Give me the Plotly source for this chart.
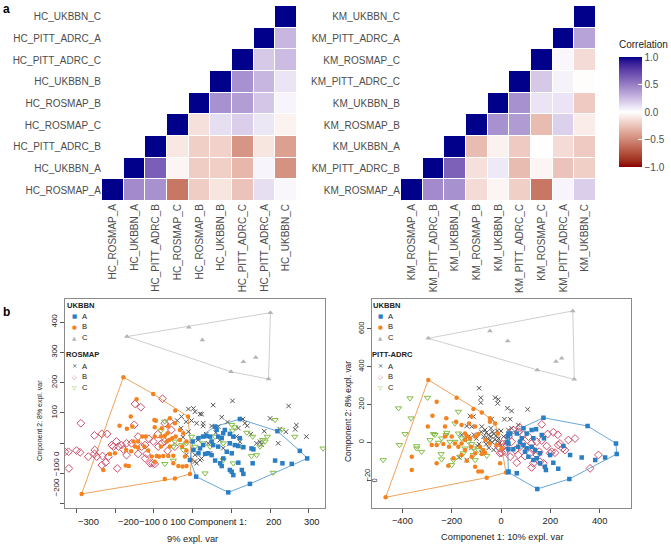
import plotly.graph_objects as go

W, H = 671, 549
FONT = "Liberation Sans, Arial, sans-serif"

# ---------------- heatmap data ----------------
HC_LABELS = ["HC_ROSMAP_A", "HC_UKBBN_A", "HC_PITT_ADRC_B", "HC_ROSMAP_C", "HC_ROSMAP_B",
             "HC_UKBBN_B", "HC_PITT_ADRC_C", "HC_PITT_ADRC_A", "HC_UKBBN_C"]
HC_UPPER = [
    [1, 0.45, 0.42, -0.58, -0.21, -0.11, -0.25, 0.12, 0.03],
    [1, 0.63, -0.04, -0.21, -0.2, -0.3, 0.04, -0.46],
    [1, -0.1, -0.2, -0.19, -0.45, -0.11, -0.4],
    [1, -0.13, 0.12, 0.18, 0.09, -0.05],
    [1, 0.42, 0.37, 0.21, 0.04],
    [1, 0.42, 0.27, 0.1],
    [1, 0.2, 0.25],
    [1, 0.27],
    [1],
]
KM_LABELS = ["KM_ROSMAP_A", "KM_PITT_ADRC_B", "KM_UKBBN_A", "KM_ROSMAP_B", "KM_UKBBN_B",
             "KM_PITT_ADRC_C", "KM_ROSMAP_C", "KM_PITT_ADRC_A", "KM_UKBBN_C"]
KM_UPPER = [
    [1, 0.45, 0.42, -0.15, -0.04, -0.2, -0.58, 0.04, 0.18],
    [1, 0.62, -0.13, 0.08, -0.28, -0.04, -0.25, -0.2],
    [1, -0.28, -0.06, -0.22, 0.0, -0.15, -0.22],
    [1, 0.42, 0.38, -0.28, 0.17, -0.08],
    [1, 0.42, 0.1, 0.1, -0.22],
    [1, 0.2, 0.05, -0.01],
    [1, 0.03, -0.15],
    [1, 0.35],
    [1],
]
CB_TICKS = [-1, -0.5, 0, 0.5, 1]
CB_TEXT = ["\u22121.0", "\u22120.5", "0.0", "0.5", "1.0"]

# ---------------- PCA scatter data (left: UKBBN + ROSMAP) ----------------
L_UKA_X = [122, 219, 277, 296, 256, 232, 213, 148, 92, 9, 157, 152, 131, 118, 122, 105, 96, 79, 66, 45,
           36, 27, 32, 40, 49, 58, 71, 75, 79, 96, 101, 105, 127, 131, 118, 101, 88, 66, 53, 49,
           19, 15, 2, 0, 75, 96, 109, 27, 58, 62, 83, 15, 155, -7]
L_UKA_Y = [80, 40, -25, -50, -68, -66, -57, -134, -162, -110, -20, -17, -13, -9, 17, 22, 31, 33, 22, 22,
           24, -6, -35, -33, -39, -57, -66, -75, -50, -88, -94, -105, -88, -101, -64, -33, -28, -11, -6, 6,
           -17, -33, -22, 6, 17, 0, -6, 22, 55, 44, 44, 17, -66, -55]
L_UKB_X = [-179, -145, -102, -160, -189, -156, -170, -99, -95, -98, -130, -121, -98, -82, -72, -65, -61, -53, -44, -33,
           -27, -214, -172, -159, -149, -141, -125, -115, -106, -93, -87, -76, -63, -50, -37, -26, -16, -7, -72, -46,
           -231, -287, -173, -165, -98, -201, -153, -141, -82, -59, -50, -20, -16, -3, -67, -80, -63, -59, -46, -33,
           -24, -16, -45, -12]
L_UKB_Y = [218, 145, 163, 88, 58, 55, 48, 77, 74, 53, 22, 22, 22, 22, 25, 33, 11, 17, 22, 11,
           -11, -35, -22, -26, -11, -15, -11, -24, -44, -42, -44, -42, -42, -41, -75, -77, -75, -101, -118, -116,
           -88, -167, -73, -75, -61, -33, 6, 6, -11, -11, -66, -44, -24, -55, 6, 50, 55, 83, 66, 44,
           33, 6, 108, 88]
L_UKC_X = [-170, -10, 25, 201, 99, 131, 163, 196]
L_UKC_Y = [352, 383, 341, 431, 236, 269, 283, 212]
L_RA_X = [53, 103, 248, 200, 225, 241, 268, 265, 294, 221, 75, 27, 19, 2, 49, 66, 118, 135, 141, 165,
          174, 178, 113, 122, 96, 79, 45, 19, 6, 10, -11, 6, 23, -29, -17, -3, 10, 27, -11, 14,
          -16, 6, 23, -30, 35, 60, 90, 150, 185, 130, -40, -25, 40, 70]
L_RA_Y = [126, 140, 123, 82, 47, 38, 60, 46, 22, 0, 86, 66, 97, 115, 57, 55, 50, 66, 58, 0,
          5, -5, 22, 5, 0, -16, -33, -55, -38, -66, 113, 104, 96, 88, 71, 75, 66, 57, 38, 11,
          -38, -60, -50, 50, 30, 35, 70, 30, 40, 80, 75, 20, 0, 10]
L_RB_X = [-289, -321, -300, -291, -320, -254, -235, -221, -253, -254, -248, -235, -233, -218, -205, -197, -192, -184, -179, -171,
          -171, -158, -151, -134, -149, -195, -141, -141, -132, -123, -119, -110, -104, -98, -102, -89, -80, -72, -78, -72,
          -59, -55, -46, -123, -270, -225, -209, -330, -113, -90, -65]
L_RB_Y = [66, -28, -24, -30, -83, 26, 31, 31, -22, -35, -44, -72, -42, -44, -11, 6, -11, -6, -20, 0,
          -39, 0, 61, 119, 130, -83, 22, -35, -11, -6, -35, -66, -66, -68, 6, -11, 0, 6, 147, 66,
          72, 44, -11, -50, -44, -63, -6, -28, 15, 30, -25]
L_RC_X = [213, 264, 337, 208, 152, 165, 127, 155, 187, 193, 181, 105, 79, 32, 101, 109, 103, 79, 58, 45,
          27, 174, -72, -82, -72, -50, -50, -29, -24, -16, -3, 6, -46, 140, 230]
L_RC_Y = [77, 22, -17, -97, -42, -39, -11, 22, 6, 22, 11, -66, -55, -99, 61, 53, 42, 0, 22, -11,
          0, -11, 72, 42, -68, -57, -11, -6, -22, 0, 22, -11, 6, 35, 45]

# ---------------- PCA scatter data (right: UKBBN + PITT-ADRC) ----------------
R_UKA_X = [172, 351, 466, 469, 422, 382, 327, 280, 277, 147, 30, 64, 37, 64, 84, 91, 124, 142, 104, 165,
           174, 131, 124, 91, 70, 50, 97, 111, 131, 145, 158, 178, 182, 212, 232, 253, 30, 26, 28, 77,
           104, 158, 199, 138, 30, 30, 30]
R_UKA_Y = [130, 86, -6, -62, -81, -94, -81, -67, -194, -247, -159, -164, 47, 47, 21, 74, 65, 69, 47, 39,
           21, 21, -23, -14, -23, -37, -50, -76, -94, -85, -111, -129, -147, -108, -140, -20, -6, 3, 30, 3,
           -32, -58, -67, -41, 44, -37, -155]
R_UKB_X = [-295, -261, -180, -112, -78, -45, -24, -278, -297, -227, -222, -182, -160, -146, -139, -281, -261, -234, -211, -187,
           -160, -146, -126, -105, -92, -85, -72, -78, -65, -119, -105, -139, -160, -193, -362, -362, -261, -214, -105, -92,
           -78, -58, -468, 20, -18, -45, -62, -105, -130, -119, -200, -227, -173, -146, -122, 3, -4, -45, -12]
R_UKB_Y = [330, 215, 236, 176, 157, 127, 100, 141, 83, 83, 127, 109, 92, 47, 33, -14, -14, -9, -23, -6,
           -6, 12, 21, 30, 44, -23, -41, -62, -55, -76, -58, -97, -67, -85, -76, -147, -111, -124, -129, -155,
           -155, -187, -291, -160, -14, -6, 12, 83, 100, 136, 30, 30, -23, -41, -23, -32, -111, 108, 47]
R_UKC_X = [-295, -45, 27, 291, 147, 223, 246, 297]
R_UKC_Y = [550, 589, 536, 695, 383, 427, 444, 333]
R_PA_X = [-89, -82, -82, -24, -11, -14, 26, 43, 108, -126, -112, -38, 14, 37, -139, -119, -78, -65, -41, -15,
          30, 43, 70, -160, -132, -139, -78, -89, -60, -50, -40, -30, -20, -10, -55, -45, -35, -25, -15, -5,
          -70, -65, -80, -100, -110, -95, -50, -30, 0, 10, -120, -170, 20, -60, -35]
R_PA_Y = [286, 236, 210, 236, 227, 206, 180, 166, 174, 139, 136, 123, 122, 122, 86, 83, 83, 65, 74, 60,
          65, 74, 92, 39, 30, -94, -55, -9, 50, 40, 30, 45, 35, 20, 20, 10, 0, 15, 5, -5,
          30, 10, 55, 20, 40, -20, -30, -40, 60, 30, -30, -80, 0, -10, 55]
R_PB_X = [165, 77, 189, 212, 273, 232, 205, 219, 199, 395, 361, 145, 131, 124, 158, 172, 64, 104, 124, 145,
          165, 111, 91, 70, 50, 30, 43, 23, 10, 3, -4, 57, 77, 70, 97, 185, 250, 259, 239, 131,
          155, 84, 118, 37, 3, 16, -4, -11, 30, 230, 300]
R_PB_Y = [95, 77, 44, 53, 12, -14, -50, -55, -58, -67, -138, -67, -111, -133, -103, -111, -108, -23, -6, 3,
          9, 30, 39, 56, 65, 30, 3, -14, -23, -55, -32, -41, -23, -67, -73, -20, -32, -41, -6, -41,
          -50, 3, -58, -76, -6, -50, -58, -23, 30, 40, 20]
R_PC_X = [-369, -298, -416, -478, -412, -389, -342, -322, -274, -268, -187, -220, -173, -160, -146, -153, -200, -241, -193, -166,
          -132, -119, -112, -92, -112, -58, -105, -342, -254, -241, -187, -207, -365, -288, -243, -173, -223]
R_PC_Y = [233, 236, 180, -94, -14, 44, -32, -50, 44, 39, 100, 51, 47, 21, -32, -58, -120, -90, -94, -76,
          3, -9, -32, -41, -67, -71, -94, -20, -2, 21, 3, 3, 127, 12, -62, 162, 39]

L_XTICK_VALS = [-300, -200, -100, 0, 100, 200, 300]
L_XTICK_TEXT = ["\u2212300", "\u2212200", "\u2212100 0 100 Component 1:", "200", "300"]
L_XTICK_AT = [-268, -165, 0, 210, 308]
L_YTICK_VALS = [-200, -100, 0, 100, 200, 300, 400]
L_YTICK_TEXT = ["", "", "", "100", "200", "300", "400"]
R_XTICK_VALS = [-400, -200, 0, 200, 400]
R_XTICK_TEXT = ["\u2212400", "\u2212200", "0", "200", "400"]
R_YTICK_VALS = [-200, 0, 200, 400, 600]
R_YTICK_TEXT = ["", "0", "200", "400", "600"]

# ---------------- colours ----------------
BLUE, ORANGE, GREY_T = "#2a7fc4", "#f5821f", "#b4b4b4"
XCOL, PINK, GREEN = "#555555", "#cc4f6c", "#84bd47"
HULL_BLUE, HULL_ORANGE, HULL_GREY = "#6aa6d6", "#eda45e", "#cfcfcf"


# ---------------- helpers ----------------
def fx(p):
    return p / W


def fy(p):
    return 1 - p / H


def hex_rgb(h):
    h = h.lstrip("#")
    return tuple(int(h[i:i + 2], 16) for i in (0, 2, 4))


XN, YN, ZN = 0.95047, 1.0, 1.08883


def to_lab(rgb):
    def lin(c):
        c = c / 255
        return c / 12.92 if c <= 0.04045 else ((c + 0.055) / 1.055) ** 2.4
    r, g, b = (lin(v) for v in rgb)
    X = 0.4124564 * r + 0.3575761 * g + 0.1804375 * b
    Y = 0.2126729 * r + 0.7151522 * g + 0.0721750 * b
    Z = 0.0193339 * r + 0.1191920 * g + 0.9503041 * b

    def f(t):
        return t ** (1 / 3) if t > (6 / 29) ** 3 else t / (3 * (6 / 29) ** 2) + 4 / 29
    a, b_, c = f(X / XN), f(Y / YN), f(Z / ZN)
    return (116 * b_ - 16, 500 * (a - b_), 200 * (b_ - c))


def from_lab(lab):
    L, a, b = lab
    fyv = (L + 16) / 116
    fxv = fyv + a / 500
    fzv = fyv - b / 200

    def finv(t):
        return t ** 3 if t > 6 / 29 else 3 * (6 / 29) ** 2 * (t - 4 / 29)
    X, Y, Z = XN * finv(fxv), YN * finv(fyv), ZN * finv(fzv)
    r = 3.2404542 * X - 1.5371385 * Y - 0.4985314 * Z
    g = -0.9692660 * X + 1.8760108 * Y + 0.0415560 * Z
    bb = 0.0556434 * X - 0.2040259 * Y + 1.0572252 * Z

    def gam(c):
        c = max(0.0, c)
        v = 12.92 * c if c <= 0.0031308 else 1.055 * c ** (1 / 2.4) - 0.055
        return max(0, min(255, round(v * 255)))
    return "rgb(%d,%d,%d)" % (gam(r), gam(g), gam(bb))


LOW, MID, HIGH = to_lab(hex_rgb("#8B0000")), to_lab(hex_rgb("#FFFFFF")), to_lab(hex_rgb("#00008B"))
colorscale = []
N = 20
for i in range(N + 1):
    t = i / N
    if t <= 0.5:
        s = t / 0.5
        lab = tuple(LOW[k] + (MID[k] - LOW[k]) * s for k in range(3))
    else:
        s = (t - 0.5) / 0.5
        lab = tuple(MID[k] + (HIGH[k] - MID[k]) * s for k in range(3))
    colorscale.append([t, from_lab(lab)])


def tri_matrix(upper):
    n = len(upper)
    z = [[None] * n for _ in range(n)]
    for r, row in enumerate(upper):
        for k, v in enumerate(row):
            z[r][r + k] = v
    return z


def hull(xs, ys):
    pts = sorted(set(zip(xs, ys)))

    def cross(o, a, b):
        return (a[0] - o[0]) * (b[1] - o[1]) - (a[1] - o[1]) * (b[0] - o[0])
    lower, upper = [], []
    for p in pts:
        while len(lower) >= 2 and cross(lower[-2], lower[-1], p) <= 0:
            lower.pop()
        lower.append(p)
    for p in reversed(pts):
        while len(upper) >= 2 and cross(upper[-2], upper[-1], p) <= 0:
            upper.pop()
        upper.append(p)
    h = lower[:-1] + upper[:-1]
    h.append(h[0])
    return [p[0] for p in h], [p[1] for p in h]


fig = go.Figure()

# ---------------- heatmaps ----------------
idx = list(range(9))
fig.add_trace(go.Heatmap(z=tri_matrix(HC_UPPER), x=idx, y=idx, coloraxis="coloraxis",
                         xgap=1, ygap=1, xaxis="x", yaxis="y", hoverongaps=False))
fig.add_trace(go.Heatmap(z=tri_matrix(KM_UPPER), x=idx, y=idx, coloraxis="coloraxis",
                         xgap=1, ygap=1, xaxis="x2", yaxis="y2", hoverongaps=False))


# ---------------- scatter panels ----------------
def add_panel(xa, ya, groups_uk, groups_other):
    for (xs, ys, col, hcol, sym, size) in groups_uk:
        hx, hy = hull(xs, ys)
        fig.add_trace(go.Scatter(x=hx, y=hy, mode="lines", line=dict(color=hcol, width=1),
                                 xaxis=xa, yaxis=ya, showlegend=False, hoverinfo="skip"))
    allg = groups_other + groups_uk
    for (xs, ys, col, hcol, sym, size) in allg:
        if sym == "x-thin":
            mk = dict(symbol=sym, size=size, line=dict(color=col, width=1))
        elif sym.endswith("-open"):
            mk = dict(symbol=sym, size=size, color=col, line=dict(width=1))
        else:
            mk = dict(symbol=sym, size=size, color=col, line=dict(width=0))
        fig.add_trace(go.Scatter(x=xs, y=ys, mode="markers", marker=mk,
                                 xaxis=xa, yaxis=ya, showlegend=False))


add_panel("x3", "y3",
          [(L_UKC_X, L_UKC_Y, GREY_T, HULL_GREY, "triangle-up", 5),
           (L_UKB_X, L_UKB_Y, ORANGE, HULL_ORANGE, "circle", 4.5),
           (L_UKA_X, L_UKA_Y, BLUE, HULL_BLUE, "square", 4.5)],
          [(L_RA_X, L_RA_Y, XCOL, None, "x-thin", 4.5),
           (L_RB_X, L_RB_Y, PINK, None, "diamond-open", 6),
           (L_RC_X, L_RC_Y, GREEN, None, "triangle-down-open", 5.5)])
add_panel("x4", "y4",
          [(R_UKC_X, R_UKC_Y, GREY_T, HULL_GREY, "triangle-up", 5),
           (R_UKB_X, R_UKB_Y, ORANGE, HULL_ORANGE, "circle", 4.5),
           (R_UKA_X, R_UKA_Y, BLUE, HULL_BLUE, "square", 4.5)],
          [(R_PA_X, R_PA_Y, XCOL, None, "x-thin", 4.5),
           (R_PB_X, R_PB_Y, PINK, None, "diamond-open", 6),
           (R_PC_X, R_PC_Y, GREEN, None, "triangle-down-open", 5.5)])

HM_TICKFONT = dict(family=FONT, size=10, color="#4d4d4d")
hm_common = dict(showgrid=False, zeroline=False, showline=False, ticks="",
                 tickfont=HM_TICKFONT, range=[-0.5, 8.5], tickvals=idx, fixedrange=True)
AX_FONT = dict(family=FONT, size=9.3, color="#222")
sc_common = dict(showgrid=False, zeroline=False, showline=True, mirror=True, linecolor="#8a8a8a",
                 linewidth=1, ticks="outside", ticklen=4, tickcolor="#555", tickwidth=1)


def ann(text, x, y, xref="paper", yref="paper", xanchor="center", font=AX_FONT, angle=0):
    return dict(text=text, x=x, y=y, xref=xref, yref=yref, xanchor=xanchor, yanchor="middle",
                showarrow=False, borderpad=0, textangle=angle, font=font)


annotations = [
    ann("<b>a</b>", fx(6), fy(9), font=dict(family=FONT, size=12, color="black")),
    ann("<b>b</b>", fx(6), fy(312), font=dict(family=FONT, size=12, color="black")),
    ann("Correlation", fx(618), fy(45), xanchor="left", font=dict(family=FONT, size=10, color="#222")),
]
for t, xv in zip(L_XTICK_TEXT, L_XTICK_AT):
    annotations.append(ann(t, xv, fy(522), xref="x3"))
annotations += [
    ann("9% expl. var", 0, fy(539), xref="x3"),
    ann("\u2212200 \u2212100 0", fx(57), -103, yref="y3", angle=-90,
        font=dict(family=FONT, size=8, color="#222")),
    ann("Cmponent 2: 8% expl. var", fx(40), fy(421), angle=-90,
        font=dict(family=FONT, size=7, color="#222")),
    ann("Componenet 1: 10% expl. var", fx(502), fy(537)),
    ann("Component 2: 8% expl. var", fx(348), fy(412), angle=-90,
        font=dict(family=FONT, size=8.4, color="#222")),
    ann("\u221220", fx(366.5), fy(475), angle=-90, font=dict(family=FONT, size=7.5, color="#222")),
    ann("0", fx(373.5), fy(481), angle=-90, font=dict(family=FONT, size=7.5, color="#222")),
]


# legends inside scatter panels
def legend(x0, y0, title2, ysp=10.8):
    LF = dict(family=FONT, size=7.6, color="#222")
    out = [ann("<b>UKBBN</b>", fx(x0), fy(y0), xanchor="left", font=LF),
           ann("<b>%s</b>" % title2, fx(x0 - 1), fy(y0 + 49), xanchor="left", font=LF)]
    keys = [("\u25A0", BLUE, 5.5, "A", 0), ("\u25CF", ORANGE, 5.5, "B", 1), ("\u25B2", GREY_T, 5.5, "C", 2),
            ("\u00D7", XCOL, 6.5, "A", 0), ("\u25C7", PINK, 6, "B", 1), ("\u25BD", GREEN, 6, "C", 2)]
    for j, (g, c, s, lab, k) in enumerate(keys):
        yy = y0 + 11 + k * ysp + (0 if j < 3 else 50)
        out.append(ann(g, fx(x0 + 8.5), fy(yy), font=dict(family="DejaVu Sans", size=s, color=c)))
        out.append(ann(lab, fx(x0 + 14.5), fy(yy), xanchor="left", font=LF))
    return out


annotations += legend(66, 305, "ROSMAP")
annotations += legend(372, 305, "PITT-ADRC")

fig.update_layout(
    width=W, height=H, margin=dict(l=0, r=0, t=0, b=0),
    paper_bgcolor="white", plot_bgcolor="white",
    font=dict(family=FONT),
    coloraxis=dict(
        colorscale=colorscale, cmin=-1, cmax=1,
        colorbar=dict(x=fx(619), xanchor="left", xpad=0, ypad=0,
                      y=fy(167), yanchor="bottom", len=110, lenmode="pixels",
                      thickness=23, thicknessmode="pixels", outlinewidth=0,
                      tickvals=CB_TICKS, ticktext=CB_TEXT, ticks="inside", ticklen=4,
                      tickcolor="white", tickfont=dict(family=FONT, size=10, color="#4d4d4d"))),
    xaxis=dict(domain=[fx(102), fx(297)], anchor="y", ticktext=HC_LABELS, tickangle=-90, **hm_common),
    yaxis=dict(domain=[fy(201), fy(6)], anchor="x", ticktext=HC_LABELS, **hm_common),
    xaxis2=dict(domain=[fx(401), fx(596)], anchor="y2", ticktext=KM_LABELS, tickangle=-90, **hm_common),
    yaxis2=dict(domain=[fy(201), fy(6)], anchor="x2", ticktext=KM_LABELS, **hm_common),
    xaxis3=dict(domain=[fx(65), fx(325)], anchor="y3", range=[-330, 342], tickvals=L_XTICK_VALS,
                showticklabels=False, **sc_common),
    yaxis3=dict(domain=[fy(508), fy(299)], anchor="x3", range=[-213.5, 476], tickvals=L_YTICK_VALS,
                ticktext=L_YTICK_TEXT, tickangle=-90, tickfont=dict(family=FONT, size=8, color="#222"),
                **sc_common),
    xaxis4=dict(domain=[fx(372.3), fx(631)], anchor="y4", range=[-522, 527], tickvals=R_XTICK_VALS,
                ticktext=R_XTICK_TEXT, tickfont=AX_FONT, **sc_common),
    yaxis4=dict(domain=[fy(508), fy(299)], anchor="x4", range=[-347.6, 758], tickvals=R_YTICK_VALS,
                ticktext=R_YTICK_TEXT, tickangle=-90, tickfont=dict(family=FONT, size=7.5, color="#222"),
                **sc_common),
    annotations=annotations,
)

fig.write_html("out.html")
